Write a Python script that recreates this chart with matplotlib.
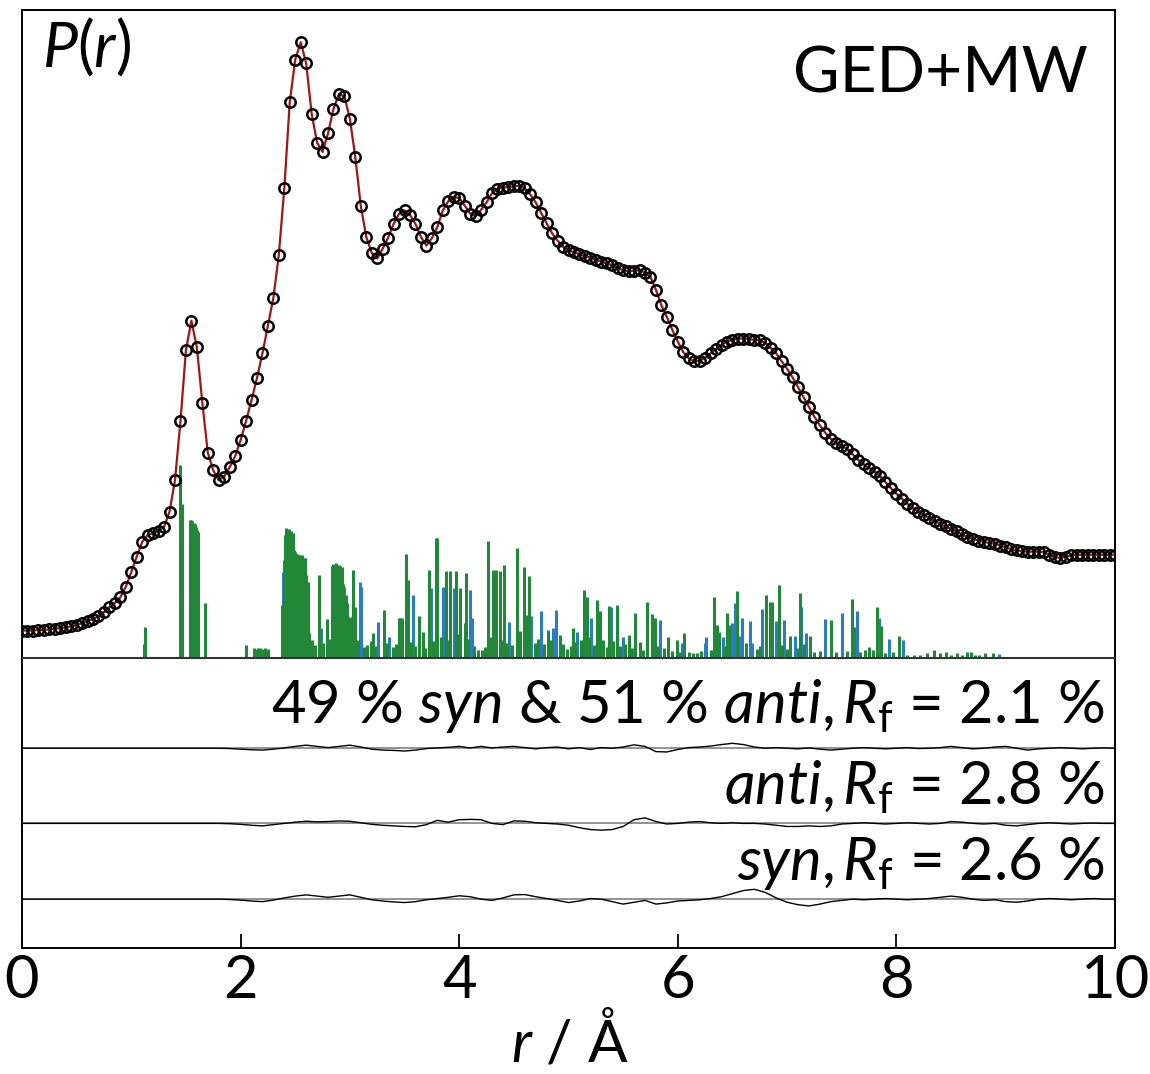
import numpy as np
import matplotlib
matplotlib.use('Agg')
import matplotlib.pyplot as plt

plt.rcParams['font.family'] = ['Lato', 'DejaVu Sans']
plt.rcParams['mathtext.fontset'] = 'custom'
plt.rcParams['mathtext.rm'] = 'Lato'
plt.rcParams['mathtext.it'] = 'Lato:italic'

# radial distribution curve, sampled every 0.05 A from 0 to 10
r_step = 0.05
p_r = [
    4.5, 4.5, 4.5, 4.6, 4.6, 4.7, 4.8, 4.9, 5.0, 5.2,
    5.4, 5.7, 6.0, 6.4, 6.8, 7.5, 8.3, 9.0, 9.9, 11.6,
    14.0, 16.5, 18.9, 20.0, 20.3, 20.7, 21.3, 23.8, 28.9, 38.5,
    50.0, 54.8, 50.5, 41.5, 33.4, 30.5, 28.9, 29.5, 31.0, 32.8,
    35.4, 38.5, 41.9, 45.5, 49.5, 54.0, 58.5, 65.5, 76.3, 90.3,
    97.2, 100.0, 96.6, 88.4, 83.7, 82.2, 85.2, 89.2, 91.6, 91.2,
    87.6, 81.3, 73.4, 68.4, 65.8, 64.9, 66.5, 68.3, 70.5, 72.2,
    72.7, 72.0, 70.5, 68.4, 67.0, 68.2, 70.0, 72.7, 74.2, 74.9,
    74.7, 73.5, 72.2, 71.8, 72.8, 74.0, 75.5, 76.2, 76.4, 76.5,
    76.6, 76.7, 76.3, 75.3, 74.0, 72.3, 70.6, 69.0, 67.8, 66.8,
    66.3, 65.9, 65.6, 65.3, 65.0, 64.7, 64.4, 64.1, 63.8, 63.4,
    63.0, 62.8, 62.9, 63.0, 62.6, 61.9, 59.8, 57.3, 55.4, 53.3,
    51.4, 49.7, 48.7, 48.2, 48.3, 48.8, 49.5, 50.2, 50.9, 51.4,
    51.7, 51.9, 51.9, 51.8, 51.7, 51.6, 51.2, 50.4, 49.5, 48.2,
    47.0, 45.6, 44.0, 42.4, 40.8, 39.2, 37.8, 36.6, 35.6, 34.9,
    34.4, 34.0, 33.1, 32.2, 31.5, 30.9, 30.3, 29.6, 28.6, 27.6,
    26.7, 25.9, 25.1, 24.4, 23.8, 23.3, 22.8, 22.3, 21.8, 21.4,
    21.0, 20.6, 20.1, 19.7, 19.4, 19.1, 18.9, 18.7, 18.6, 18.3,
    18.0, 17.7, 17.5, 17.4, 17.3, 17.3, 17.3, 17.2, 16.8, 16.4,
    16.3, 16.5, 16.7, 16.8, 16.8, 16.8, 16.8, 16.8, 16.8, 16.8,
    16.8,
]

# interatomic distance sticks (r, height)
green_bars = [
    (1.12, 2.4), (1.13, 5.1), (1.446, 31.3), (1.46, 25.1),
    (1.54, 22.5), (1.55, 22.4), (1.56, 22.3), (1.57, 22.0), (1.58, 21.8),
    (1.59, 21.3), (1.60, 20.9), (1.61, 20.5), (1.67, 8.9),
    (2.05, 2.2), (2.12, 1.6), (2.14, 1.5), (2.16, 1.6), (2.18, 1.6),
    (2.20, 1.5), (2.22, 1.6), (2.25, 1.5),
    (2.38, 8.6), (2.40, 16.0), (2.41, 20.0), (2.42, 21.1), (2.43, 20.5),
    (2.44, 21.0), (2.45, 19.8), (2.46, 20.6), (2.47, 18.5), (2.48, 20.3),
    (2.49, 17.5), (2.50, 17.3), (2.51, 16.9), (2.52, 17.0), (2.53, 16.8),
    (2.54, 16.8), (2.55, 16.5), (2.56, 16.8), (2.57, 15.8), (2.58, 16.3),
    (2.59, 16.3), (2.60, 13.5), (2.61, 12.4), (2.62, 12.4), (2.63, 4.1),
    (2.65, 3.0), (2.68, 2.2), (2.72, 13.5), (2.75, 2.5), (2.79, 6.3),
    (2.82, 3.2), (2.84, 15.0), (2.85, 15.3), (2.86, 15.0), (2.87, 15.4),
    (2.88, 15.0), (2.89, 14.8), (2.90, 15.2), (2.91, 15.0), (2.92, 14.3),
    (2.93, 14.8), (2.94, 12.0), (2.96, 10.2), (2.97, 9.0), (3.00, 6.7),
    (3.03, 14.3), (3.05, 8.3), (3.07, 3.0), (3.13, 1.8), (3.16, 2.2),
    (3.19, 2.8), (3.21, 4.1), (3.23, 2.0), (3.31, 7.8), (3.34, 2.5),
    (3.39, 1.8), (3.42, 2.4), (3.45, 6.6), (3.48, 6.6), (3.51, 17.0),
    (3.53, 12.7), (3.56, 2.6), (3.60, 2.0), (3.63, 6.8), (3.67, 4.3),
    (3.69, 1.6), (3.72, 14.3), (3.76, 2.8), (3.785, 19.6), (3.80, 19.5),
    (3.83, 3.5), (3.88, 14.1), (3.90, 3.0), (3.92, 14.1), (3.97, 14.1),
    (3.99, 4.0), (4.01, 11.4), (4.05, 5.7), (4.06, 13.9), (4.08, 3.2),
    (4.14, 2.0), (4.17, 1.4), (4.21, 1.4), (4.24, 1.8), (4.265, 19.1),
    (4.28, 3.5), (4.31, 14.3), (4.34, 14.4), (4.37, 14.1), (4.39, 3.0),
    (4.41, 15.1), (4.44, 2.5), (4.48, 2.2), (4.525, 17.9), (4.56, 4.5),
    (4.59, 14.9), (4.62, 7.0), (4.64, 13.3), (4.69, 2.5), (4.72, 3.2),
    (4.78, 2.4), (4.81, 4.6), (4.84, 3.0), (4.92, 3.8), (4.95, 2.4),
    (4.99, 1.5), (5.02, 2.0), (5.04, 4.9), (5.06, 2.6), (5.11, 3.0),
    (5.14, 11.1), (5.17, 9.9), (5.19, 3.5), (5.23, 2.2), (5.26, 9.4),
    (5.29, 7.6), (5.32, 3.0), (5.35, 1.8), (5.37, 8.5), (5.41, 2.8),
    (5.44, 8.7), (5.47, 2.0), (5.52, 2.4), (5.55, 3.8), (5.58, 1.6),
    (5.61, 7.4), (5.65, 2.7), (5.68, 1.4), (5.72, 9.1), (5.76, 7.2),
    (5.79, 6.5), (5.82, 2.0), (5.87, 1.6), (5.91, 3.5), (5.95, 1.2),
    (5.99, 3.0), (6.02, 1.0), (6.06, 4.1), (6.10, 1.0), (6.14, 0.8),
    (6.18, 0.8), (6.21, 1.2), (6.30, 1.4), (6.33, 9.9), (6.36, 5.4),
    (6.38, 4.3), (6.43, 2.0), (6.45, 7.4), (6.47, 5.4), (6.545, 11.0),
    (6.62, 2.5), (6.72, 1.5), (6.75, 2.0), (6.81, 10.3), (6.84, 9.2),
    (6.86, 9.2), (6.93, 11.9), (6.95, 2.2), (7.00, 1.5), (7.03, 3.6),
    (7.10, 1.6), (7.12, 10.6), (7.15, 2.4), (7.21, 3.6), (7.25, 1.0),
    (7.30, 1.2), (7.40, 6.2), (7.45, 1.0), (7.55, 1.2), (7.59, 9.6),
    (7.61, 5.0), (7.67, 1.0), (7.71, 1.4), (7.75, 1.8), (7.79, 1.4),
    (7.82, 8.3), (7.86, 5.2), (7.90, 0.8), (7.97, 1.0), (8.02, 3.6),
    (8.10, 0.6), (8.16, 0.6), (8.22, 0.6), (8.28, 0.8), (8.34, 1.4),
    (8.40, 0.8), (8.45, 1.0), (8.50, 0.6), (8.55, 0.9), (8.60, 0.6),
    (8.65, 1.0), (8.68, 1.0), (8.72, 0.6), (8.76, 0.5), (8.81, 0.8),
    (8.88, 0.8),
]

blue_bars = [
    (2.39, 14.0), (2.74, 4.9), (2.95, 11.6), (3.09, 12.4), (3.10, 11.6),
    (3.26, 5.9), (3.36, 3.5), (3.46, 6.6), (3.58, 10.3), (3.74, 11.4),
    (3.85, 11.6), (3.95, 11.4), (4.10, 11.1), (4.12, 6.5), (4.455, 5.9),
    (4.66, 6.8), (4.75, 7.6), (4.86, 4.9), (4.89, 7.8), (5.08, 4.3),
    (5.21, 6.5), (5.39, 8.3), (5.50, 3.5), (5.84, 6.2), (6.04, 2.5),
    (6.25, 2.5), (6.26, 3.5), (6.41, 3.5), (6.50, 5.7), (6.52, 8.9),
    (6.57, 3.6), (6.59, 6.5), (6.66, 6.0), (6.68, 2.5), (6.77, 8.0),
    (6.90, 6.0), (6.97, 6.2), (7.07, 3.6), (7.13, 8.4), (7.17, 4.1),
    (7.35, 6.3), (7.50, 7.3), (7.64, 7.6), (7.84, 6.5), (7.93, 3.2),
    (8.06, 2.9), (8.94, 0.7),
]

# difference curves, sampled every 0.1 A from 0 to 10
res_step = 0.1
res_mix = [0.0] * 18 + [
    0.0, -0.05, -0.15, -0.25, -0.3, -0.15, 0.05, 0.3, 0.5, 0.3,
    0.1, 0.3, 0.5, 0.2, -0.15, -0.3, -0.35, -0.45, -0.3, -0.05,
    0.05, 0.15, 0.3, 0.05, 0.3, 0.05, 0.2, 0.3, 0.1, -0.1,
    0.1, 0.2, -0.1, 0.1, -0.2, 0.1, 0.0, 0.2, 0.55, 0.3,
    -0.55, -0.6, -0.2, 0.1, 0.2, 0.35, 0.6, 0.8, 0.6, 0.2,
    0.0, 0.1, 0.0, -0.1, 0.05, -0.15, -0.3, -0.15, 0.0, 0.1,
    0.0, -0.1, 0.0, 0.1, -0.05, 0.0, 0.1, 0.3, 0.1, -0.1,
    0.0, 0.2, 0.3, 0.0, -0.3, -0.1, 0.0, 0.1, 0.0, -0.1,
    0.0, 0.05, 0.0,
]
res_anti = [0.0] * 18 + [
    0.0, -0.05, -0.15, -0.3, -0.4, -0.2, 0.0, 0.2, 0.35, 0.25,
    0.3, 0.4, 0.35, 0.1, -0.15, -0.3, -0.4, -0.5, -0.55, -0.2,
    0.5, 0.2, 0.6, 0.65, 0.6, 0.0, -0.2, 0.4, 0.35, 0.1,
    0.0, -0.1, -0.3, -0.7, -1.0, -1.1, -1.0, -0.5, 0.6, 0.9,
    0.3, -0.1, 0.0, 0.2, 0.3, 0.1, 0.0, 0.1, 0.0, 0.0,
    -0.1, -0.3, -0.5, -0.5, -0.4, -0.5, -0.4, -0.1, 0.0, 0.1,
    0.0, -0.1, 0.0, 0.1, 0.0, -0.1, 0.0, 0.3, 0.2, 0.0,
    -0.1, 0.0, -0.3, -0.4, -0.2, 0.0, 0.1, 0.0, -0.1, 0.0,
    0.05, 0.0, 0.0,
]
res_syn = [0.0] * 18 + [
    0.0, -0.05, -0.15, -0.3, -0.4, -0.15, 0.2, 0.5, 0.7, 0.5,
    0.3, 0.5, 0.7, 0.3, -0.1, -0.3, -0.45, -0.55, -0.4, -0.1,
    0.1, 0.3, 0.55, 0.4, 0.0, -0.2, 0.2, 0.7, 0.75, 0.4,
    0.1, -0.2, -0.55, -0.3, 0.1, 0.0, -0.4, -0.8, -0.5, -0.2,
    -0.8, -0.6, -0.3, -0.2, -0.1, 0.1, 0.4, 0.9, 1.4, 1.6,
    1.1, 0.2, -0.5, -0.9, -1.1, -0.8, -0.4, -0.2, 0.0, -0.1,
    0.0, 0.1, 0.0, -0.1, 0.0, 0.1, 0.3, 0.5, 0.3, 0.0,
    -0.2, -0.1, -0.4, -0.5, -0.3, 0.0, 0.1, 0.0, -0.1, 0.0,
    0.1, 0.0, 0.0,
]

res_offsets = [-14.6, -26.8, -39.1]
res_labels = [
    r"49 % $\mathit{syn}$ & 51 % $\mathit{anti}$,$\,\mathit{R}_\mathrm{f}$ = 2.1 %",
    r"$\mathit{anti}$,$\,\mathit{R}_\mathrm{f}$ = 2.8 %",
    r"$\mathit{syn}$,$\,\mathit{R}_\mathrm{f}$ = 2.6 %",
]
res_label_y = [-10.55, -23.8, -36.0]

green = '#23873a'
blue = '#2a7cc4'

fig = plt.figure(figsize=(11.5, 10.74), dpi=100)
ax = fig.add_axes([0.0191, 0.1173, 0.9505, 0.8734])

r_grid = np.arange(len(p_r)) * r_step
r_res = np.arange(len(res_mix)) * res_step

br, bh = zip(*blue_bars)
ax.vlines(br, 0, bh, color=blue, lw=2.2, zorder=2)
gr, gh = zip(*green_bars)
ax.vlines(gr, 0, gh, color=green, lw=2.2, zorder=3)

ax.axhline(0, color='#333333', lw=1.5, zorder=4)

ax.plot(r_grid, p_r, color='#a01515', lw=1.6, zorder=5)
ax.plot(r_grid, p_r, ls='none', marker='o', ms=7.5, mfc='none',
        mec='black', mew=1.8, zorder=6)

for off, res, lab, ly in zip(res_offsets, [res_mix, res_anti, res_syn],
                             res_labels, res_label_y):
    ax.axhline(off, color='#808080', lw=1.2, zorder=2)
    ax.plot(r_res, np.array(res) + off, color='black', lw=1.0, zorder=3)
    ax.text(9.91, ly, lab, ha='right', va='baseline', fontsize=43)

ax.text(9.75, 91.9, 'GED+MW', ha='right', va='baseline', fontsize=46)
ax.text(0.18, 96.0, r"$\mathit{P}$($\mathit{r}$)", ha='left',
        va='baseline', fontsize=45)

ax.set_xlim(0, 10)
ax.set_ylim(-47.03, 105.24)
ax.set_xticks([0, 2, 4, 6, 8, 10])
ax.set_yticks([])
ax.tick_params(axis='x', direction='in', length=10, width=1.3,
               labelsize=43, pad=4)
for s in ax.spines.values():
    s.set_linewidth(1.4)

fig.text(570 / 1150, 1 - 1062 / 1074, r"$\mathit{r}$ / Å", ha='center',
         va='baseline', fontsize=42)

fig.savefig('out.png', dpi=100)
